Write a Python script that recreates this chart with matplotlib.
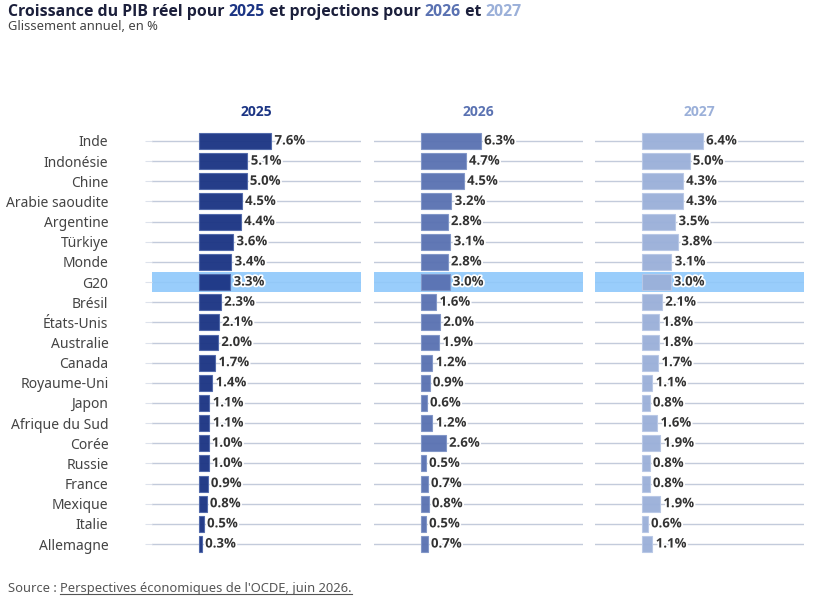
import matplotlib.pyplot as plt
import matplotlib.patheffects as pe
from matplotlib.lines import Line2D

plt.rcParams['font.family'] = ['Noto Sans', 'DejaVu Sans']
BOLD = ['Open Sans', 'DejaVu Sans']

countries = ['Inde', 'Indonésie', 'Chine', 'Arabie saoudite', 'Argentine', 'Türkiye',
             'Monde', 'G20', 'Brésil', 'États-Unis', 'Australie', 'Canada',
             'Royaume-Uni', 'Japon', 'Afrique du Sud', 'Corée', 'Russie', 'France',
             'Mexique', 'Italie', 'Allemagne']
years = ['2025', '2026', '2027']
gdp_2025 = [7.6, 5.1, 5.0, 4.5, 4.4, 3.6, 3.4, 3.3, 2.3, 2.1, 2.0, 1.7, 1.4, 1.1, 1.1, 1.0, 1.0, 0.9, 0.8, 0.5, 0.3]
gdp_2026 = [6.3, 4.7, 4.5, 3.2, 2.8, 3.1, 2.8, 3.0, 1.6, 2.0, 1.9, 1.2, 0.9, 0.6, 1.2, 2.6, 0.5, 0.7, 0.8, 0.5, 0.7]
gdp_2027 = [6.4, 5.0, 4.3, 4.3, 3.5, 3.8, 3.1, 3.0, 2.1, 1.8, 1.8, 1.7, 1.1, 0.8, 1.6, 1.9, 0.8, 0.8, 1.9, 0.6, 1.1]
highlight = 'G20'

colors = ['#1c3584', '#5a72b2', '#9bb0d9']
edges = ['#5068aa', '#8196c8', '#b9c8e6']
series = [gdp_2025, gdp_2026, gdp_2027]

W, H = 815, 599
fig = plt.figure(figsize=(W / 100, H / 100), dpi=100)

px_per_unit = 9.5
xmin, xmax = -5, 17
baselines = [199, 421, 642]
y_top, y_bot = 130.9, 554.1
ypos = list(range(len(countries)))
hi = countries.index(highlight)

for i, (vals, year) in enumerate(zip(series, years)):
    left = (baselines[i] + xmin * px_per_unit) / W
    width = (xmax - xmin) * px_per_unit / W
    ax = fig.add_axes([left, 1 - y_bot / H, width, (y_bot - y_top) / H])
    ax.set_xlim(xmin, xmax)
    ax.set_ylim(len(countries) - 0.5, -0.5)
    for y in ypos:
        ax.axhline(y, color='#c3cbdb', lw=1, zorder=0)
    ax.axhspan(hi - 0.5, hi + 0.5, color='#8ec8fb', alpha=0.9, lw=0, zorder=1)
    ax.barh(ypos, vals, height=0.79, color=colors[i], edgecolor=edges[i],
            linewidth=0.8, alpha=0.96, zorder=2)
    for y, v in zip(ypos, vals):
        ax.text(v + 0.35, y, f'{v:.1f}%', va='center', ha='left', fontsize=9.5,
                fontweight='bold', family=BOLD, color='#333333', zorder=4,
                path_effects=[pe.withStroke(linewidth=2.5, foreground='white')])
    for s in ax.spines.values():
        s.set_visible(False)
    ax.set_xticks([])
    ax.set_yticks(ypos)
    if i == 0:
        ax.set_yticklabels(countries, fontsize=10, color='#444444')
        ax.tick_params(axis='y', length=5, color='#dde2ec', pad=26)
    else:
        ax.set_yticklabels([])
        ax.tick_params(axis='y', length=0)
    ax.set_title(year, fontsize=10, fontweight='bold', family=BOLD,
                 color=colors[i], pad=11)

# title with the years coloured like their panels
parts = [('Croissance du PIB réel pour ', '#1b1f3b'), ('2025', colors[0]),
         (' et projections pour ', '#1b1f3b'), ('2026', colors[1]),
         (' et ', '#1b1f3b'), ('2027', colors[2])]
prev = fig.text(8 / W, 1 - 16 / H, parts[0][0], fontsize=11.4, fontweight='bold',
                family=BOLD, color=parts[0][1], ha='left', va='baseline')
for txt, c in parts[1:]:
    prev = fig.add_artist(plt.Annotation(txt, xy=(1, 0), xycoords=prev,
                                         va='bottom', ha='left', fontsize=11.4,
                                         fontweight='bold', family=BOLD, color=c))

fig.text(8 / W, 1 - 30 / H, 'Glissement annuel, en %', fontsize=9.3, color='#444444',
         ha='left', va='baseline')

src = fig.text(8 / W, 1 - 592 / H, 'Source : ', fontsize=9.3, color='#555555',
               ha='left', va='baseline')
link = fig.add_artist(plt.Annotation("Perspectives économiques de l'OCDE, juin 2026.",
                                     xy=(1, 0), xycoords=src, va='bottom', ha='left',
                                     fontsize=9.3, color='#555555'))
fig.canvas.draw()
bb = link.get_window_extent()
y_line = 1 - 594 / H
fig.add_artist(Line2D([bb.x0 / W, bb.x1 / W], [y_line, y_line], color='#555555',
                      lw=0.8, transform=fig.transFigure))

fig.savefig('out.png', dpi=100)
